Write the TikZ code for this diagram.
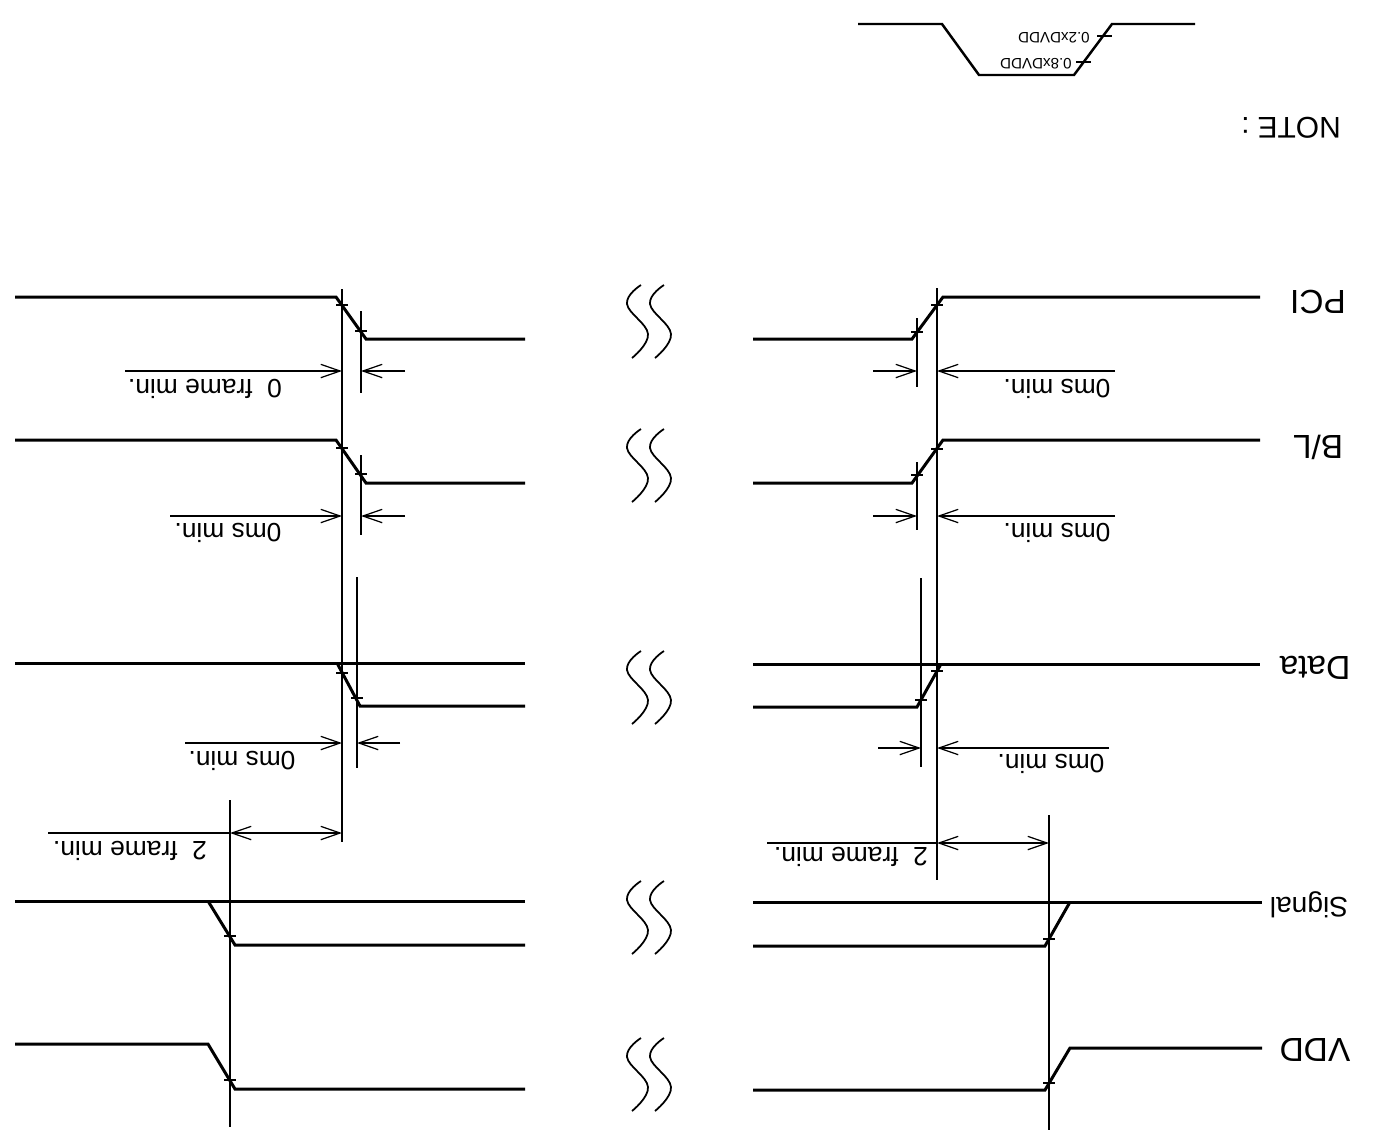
\documentclass[tikz,border=0pt]{standalone}
\usepackage{fontspec}
\setmainfont{Liberation Sans}
\usetikzlibrary{arrows.meta}

\begin{document}
\begin{tikzpicture}[x=0.01cm, y=-0.01cm,
    sig/.style={line width=0.85pt},
    guide/.style={line width=0.35pt},
    tickmark/.style={line width=0.6pt},
    dimarr/.style={line width=0.35pt, -{Straight Barb[length=5.5pt, width=3.8pt]}},
    dimboth/.style={line width=0.35pt, {Straight Barb[length=5.5pt, width=3.8pt]}-{Straight Barb[length=5.5pt, width=3.8pt]}},
    lbl/.style={rotate=180, font=\fontsize{9.5}{11}\selectfont},
    dimtxt/.style={rotate=180, font=\fontsize{7.5}{9}\selectfont}]
  \useasboundingbox (0,0) rectangle (1381,1135);

  % note: level sketch
  \draw[sig, line width=0.7pt] (858,24) -- (942,24) -- (979,75) -- (1074,75) -- (1112,24) -- (1195,24);
  \draw[tickmark] (1076,62) -- (1091,62);
  \draw[tickmark] (1097,36) -- (1112,36);
  \node[rotate=180, font=\fontsize{4.3}{5}\selectfont] (lo) at (1054,38) {0.2xDVDD};
  \node[rotate=180, font=\fontsize{4.3}{5}\selectfont] (hi) at (1036,64) {0.8xDVDD};
  \node[rotate=180, font=\fontsize{8.5}{10}\selectfont] (note) at (1291,128) {NOTE :};

  % signal names
  \node[lbl] (pci) at (1318,302) {PCI};
  \node[lbl] (bl) at (1318,447) {B/L};
  \node[lbl] (data) at (1315,668) {Data};
  \node[lbl, font=\fontsize{8}{10}\selectfont] (signal) at (1309,905) {Signal};
  \node[lbl] (vdd) at (1315,1050) {VDD};

  % power off side
  \draw[sig] (15,297) -- (336,297) -- (366,339) -- (525,339);
  \draw[sig] (15,440) -- (336,440) -- (366,483) -- (525,483);
  \draw[sig] (15,663) -- (525,663);
  \draw[sig] (337,663) -- (360,706) -- (525,706);
  \draw[sig] (15,901) -- (525,901);
  \draw[sig] (208,901) -- (235,945) -- (525,945);
  \draw[sig] (15,1044) -- (208,1044) -- (235,1089) -- (525,1089);

  % power on side
  \draw[sig] (753,339) -- (912,339) -- (943,297) -- (1260,297);
  \draw[sig] (753,483) -- (912,483) -- (943,440) -- (1260,440);
  \draw[sig] (753,664) -- (1260,664);
  \draw[sig] (753,707) -- (917,707) -- (941,664);
  \draw[sig] (753,902) -- (1262,902);
  \draw[sig] (753,946) -- (1045,946) -- (1070,902);
  \draw[sig] (753,1090) -- (1045,1090) -- (1070,1048) -- (1262,1048);

  % breaks
  \foreach \y in {321,465,687,917,1074}
    \foreach \dx in {0,23}
      \draw[line width=0.5pt, shift={(\dx,\y)}] plot[smooth, tension=0.7]
        coordinates {(641,-36) (627,-17) (648,13) (632,37)};

  % reference lines
  \draw[guide] (342,289) -- (342,842);
  \draw[guide] (937,288) -- (937,880);
  \draw[guide] (230,800) -- (230,1127);
  \draw[guide] (1049,815) -- (1049,1130);
  \draw[guide] (361,311) -- (361,393);
  \draw[guide] (917,318) -- (917,387);
  \draw[guide] (361,455) -- (361,535);
  \draw[guide] (917,462) -- (917,530);
  \draw[guide] (357,577) -- (357,768);
  \draw[guide] (921,578) -- (921,767);

  % crossing marks
  \foreach \x/\y in {342/305, 361/331, 917/332, 937/305,
                     342/448, 361/474, 917/475, 937/449,
                     342/673, 357/698, 921/700, 937/671,
                     230/936, 1049/939, 230/1080, 1049/1083}
    \draw[tickmark] (\x-6,\y) -- (\x+6,\y);

  % PCI
  \draw[dimarr] (125,371) -- (342,371);
  \draw[dimarr] (405,371) -- (361,371);
  \node[dimtxt] (pcioff) at (205,389) {0\ \ frame min.};
  \draw[dimarr] (873,371) -- (917,371);
  \draw[dimarr] (1115,371) -- (937,371);
  \node[dimtxt] (pcion) at (1057,389) {0ms min.};

  % B/L
  \draw[dimarr] (170,516) -- (342,516);
  \draw[dimarr] (405,516) -- (361,516);
  \node[dimtxt] (bloff) at (228,533) {0ms min.};
  \draw[dimarr] (873,516) -- (917,516);
  \draw[dimarr] (1115,516) -- (937,516);
  \node[dimtxt] (blon) at (1057,533) {0ms min.};

  % Data
  \draw[dimarr] (185,743) -- (342,743);
  \draw[dimarr] (400,743) -- (357,743);
  \node[dimtxt] (dataoff) at (242,761) {0ms min.};
  \draw[dimarr] (878,748) -- (921,748);
  \draw[dimarr] (1109,748) -- (937,748);
  \node[dimtxt] (dataon) at (1051,764) {0ms min.};

  % frames
  \draw[guide] (48,833) -- (230,833);
  \draw[dimboth] (230,833) -- (342,833);
  \node[dimtxt] (frameoff) at (130,851) {2\ \ frame min.};
  \draw[guide] (767,843) -- (937,843);
  \draw[dimboth] (937,843) -- (1049,843);
  \node[dimtxt] (frameon) at (851,857) {2\ \ frame min.};
\end{tikzpicture}
\end{document}
